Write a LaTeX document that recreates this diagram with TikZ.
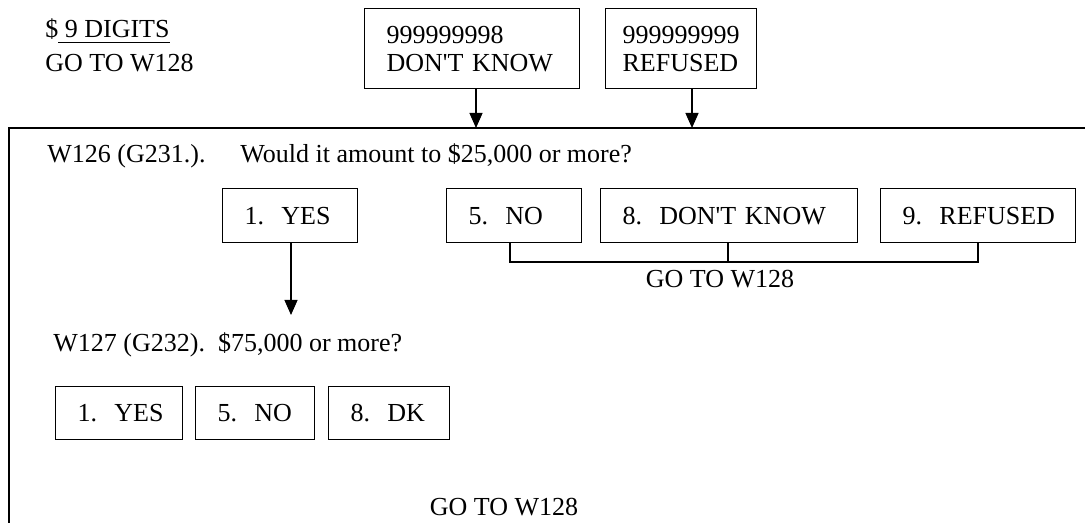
\documentclass[tikz,border=0pt]{standalone}
\usepackage{fontspec}
\setmainfont{Liberation Serif}
\usetikzlibrary{arrows.meta}
\newcommand\myul[1]{{\sbox0{#1}\rlap{\rule[-2.6pt]{\wd0}{0.5pt}}\box0}}
\begin{document}
\begin{tikzpicture}[x=0.5pt,y=-0.5pt,
  font=\fontsize{13}{14}\selectfont,
  txt/.style={inner sep=0pt},
  optbox/.style={draw, line width=0.6pt, inner xsep=11pt, inner ysep=0pt, minimum height=27pt, text width=#1, align=left, anchor=north west},
  optboxb/.style={optbox=#1, minimum height=26.5pt},
  topbox/.style={draw, line width=0.6pt, inner ysep=0pt, minimum height=40pt, align=left, anchor=north west},
  conn/.style={line width=0.6pt},
  arr/.style={line width=0.6pt, -{Triangle[length=7.5pt,width=6.5pt]}},
  framestyle/.style={line width=1pt}]
\useasboundingbox (0,0) rectangle (1085,523);

% header
\node[txt, anchor=base west] (h1) at (45,38) {\$\myul{\ 9 DIGITS}};
\node[txt, anchor=base west] (h2) at (45,72) {GO TO W128};

% top boxes
\node[topbox, inner xsep=11pt, text width=85.5pt] (dk) at (364,8) {\mbox{999999998}\\\mbox{DON\textquotesingle T KNOW}};
\node[topbox, inner xsep=8.5pt, text width=58.5pt] (ref) at (605,8) {\mbox{999999999}\\\mbox{REFUSED}};

% frame
\draw[framestyle] (1085,128) -- (9,128) -- (9,523);

\coordinate (t1) at (476,128);
\coordinate (t2) at (692,128);
\draw[arr] (dk.south -| t1) -- (t1);
\draw[arr] (ref.south -| t2) -- (t2);

% W126
\node[txt, anchor=base west] (q1a) at (47,163) {W126 (G231.).};
\node[txt, anchor=base west] (q1b) at (240,163) {Would it amount to \$25,000 or more?};

\node[optbox=45.5pt] (yes) at (222,188) {\mbox{1.\ \ YES}};
\node[optbox=45.5pt] (no) at (446,188) {\mbox{5.\ \ NO}};
\node[optbox=106.5pt] (dk2) at (600,188) {\mbox{8.\ \ DON\textquotesingle T KNOW}};
\node[optbox=75.5pt] (ref2) at (880,188) {\mbox{9.\ \ REFUSED}};

\coordinate (j1) at (510,262);
\coordinate (j2) at (728,262);
\coordinate (j3) at (978,262);
\draw[conn] (no.south -| j1) -- (j1) -- (j3) -- (ref2.south -| j3);
\draw[conn] (dk2.south -| j2) -- (j2);
\node[txt, anchor=base] (g1) at (720,288) {GO TO W128};

\coordinate (t3) at (291,315);
\draw[arr] (yes.south -| t3) -- (t3);

% W127
\node[txt, anchor=base west] (q2) at (53,351) {W127 (G232).\ \ \$75,000 or more?};

\node[optboxb=41.5pt] (yes3) at (55,386) {\mbox{1.\ \ YES}};
\node[optboxb=37.5pt] (no3) at (195,386) {\mbox{5.\ \ NO}};
\node[optboxb=38.5pt] (dk3) at (328,386) {\mbox{8.\ \ DK}};

\node[txt, anchor=base] (g2) at (504,515) {GO TO W128};
\end{tikzpicture}
\end{document}
